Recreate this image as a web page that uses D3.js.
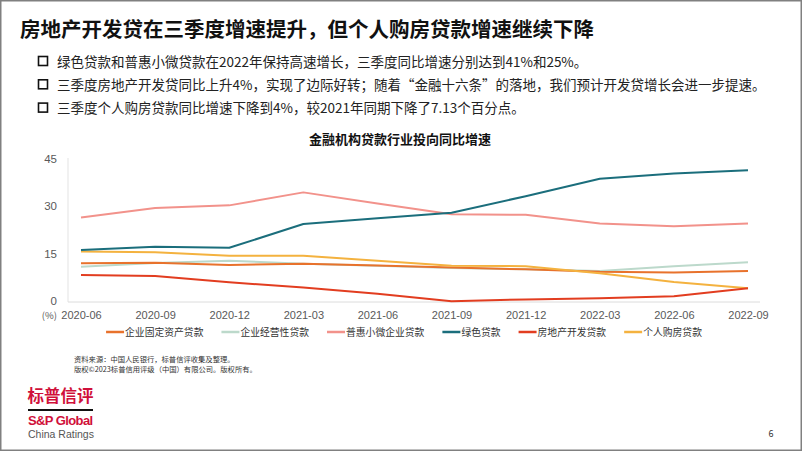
<!DOCTYPE html>
<html><head><meta charset="utf-8">
<script src="https://cdn.jsdelivr.net/npm/d3@7"></script>
<style>
html,body{margin:0;padding:0;background:#fff;}
svg{display:block;font-family:"Noto Sans CJK SC","Noto Sans",sans-serif;}
</style></head>
<body><svg id="c" width="802" height="451"></svg>
<script>
const categories = ["2020-06","2020-09","2020-12","2021-03","2021-06","2021-09","2021-12","2022-03","2022-06","2022-09"];
const seriesNames = ["企业固定资产贷款","企业经营性贷款","普惠小微企业贷款","绿色贷款","房地产开发贷款","个人购房贷款"];
const fixedAsset   = [11.9, 12.1, 11.4, 11.8, 11.2, 10.6, 10.0, 9.2, 9.0, 9.5];
const operating    = [10.8, 12.0, 12.7, 11.8, 11.1, 10.4, 10.0, 9.5, 11.0, 12.2];
const inclusiveSME = [26.4, 29.4, 30.2, 34.3, 30.8, 27.4, 27.2, 24.5, 23.6, 24.5];
const greenLoan    = [16.1, 17.1, 16.8, 24.3, 26.1, 27.9, 33.1, 38.6, 40.3, 41.3];
const realEstate   = [8.2, 7.9, 5.9, 4.3, 2.3, -0.1, 0.5, 0.9, 1.5, 4.0];
const housing      = [15.6, 15.4, 14.3, 14.3, 12.7, 11.1, 11.0, 8.8, 6.0, 4.0];
const yTicks = [0, 15, 30, 45];
const colors = ["#e8722c","#bcd9cb","#f2928b","#1b6e7c","#e23d20","#f4b23f"];
const seriesValues = [fixedAsset, operating, inclusiveSME, greenLoan, realEstate, housing];

const title = "房地产开发贷在三季度增速提升，但个人购房贷款增速继续下降";
const bullets = [
  "绿色贷款和普惠小微贷款在2022年保持高速增长，三季度同比增速分别达到41%和25%。",
  "三季度房地产开发贷同比上升4%，实现了边际好转；随着“金融十六条”的落地，我们预计开发贷增长会进一步提速。",
  "三季度个人购房贷款同比增速下降到4%，较2021年同期下降了7.13个百分点。"
];
const chartTitle = "金融机构贷款行业投向同比增速";
const notes = ["资料来源：中国人民银行，标普信评收集及整理。","版权©2023标普信用评级（中国）有限公司。版权所有。"];

const svg = d3.select("#c");
// border
svg.append("rect").attr("x",0.75).attr("y",0.75).attr("width",800.5).attr("height",449.5)
  .attr("fill","#fff").attr("stroke","#808080").attr("stroke-width",1.5);

// title
svg.append("text").attr("x",20).attr("y",37).attr("font-size",20.5).attr("font-weight",700)
  .attr("fill","#111").text(title);

// bullets
bullets.forEach((b,i)=>{
  const y = 61.5 + i*23.3;
  svg.append("rect").attr("x",38.5).attr("y",y-5).attr("width",9).attr("height",9)
    .attr("fill","none").attr("stroke","#111").attr("stroke-width",1.6);
  svg.append("text").attr("x",57).attr("y",y+5).attr("font-size",13.5).attr("fill","#222").text(b);
});

// chart title
svg.append("text").attr("x",400).attr("y",144).attr("text-anchor","middle")
  .attr("font-size",13).attr("font-weight",700).attr("fill","#111").text(chartTitle);

const x = d3.scalePoint().domain(categories).range([81,748]);
const y = d3.scaleLinear().domain([0,45]).range([301,158.5]);

// axes lines
svg.append("line").attr("x1",68).attr("x2",68).attr("y1",158).attr("y2",302)
  .attr("stroke","#e3e3e3").attr("stroke-width",1);
svg.append("line").attr("x1",68).attr("x2",760).attr("y1",302).attr("y2",302)
  .attr("stroke","#dcdcdc").attr("stroke-width",1);

const yAxis = svg.append("g").attr("transform","translate(57,0)")
  .call(d3.axisLeft(y).tickValues(yTicks).tickSize(0).tickPadding(0));
yAxis.select(".domain").remove();
yAxis.selectAll("text").attr("font-size",11.5).attr("fill","#595959")
  .attr("font-family","'Liberation Sans',Arial,sans-serif");

const xAxis = svg.append("g").attr("transform","translate(0,311)")
  .call(d3.axisBottom(x).tickSize(0).tickPadding(0));
xAxis.select(".domain").remove();
xAxis.selectAll("text").attr("font-size",11).attr("fill","#595959").attr("dy","0.71em")
  .attr("font-family","'Liberation Sans',Arial,sans-serif");
svg.append("text").attr("x",57).attr("y",318.5).attr("text-anchor","end")
  .attr("font-size",9.5).attr("fill","#595959").text("(%)");

const line = d3.line().x((d,i)=>x(categories[i])).y(d=>y(d));
const order = [1,2,0,5,3,4];
order.forEach(k=>{
  svg.append("path").datum(seriesValues[k]).attr("d",line)
    .attr("fill","none").attr("stroke",colors[k]).attr("stroke-width",2)
    .attr("stroke-linejoin","round");
});

// legend
const lg = svg.append("g");
let lx = 0;
seriesNames.forEach((n,i)=>{
  const g = lg.append("g").attr("transform",`translate(${lx},0)`);
  g.append("line").attr("x1",0).attr("x2",18).attr("y1",0).attr("y2",0)
    .attr("stroke",colors[i]).attr("stroke-width",2.5);
  const t = g.append("text").attr("x",19).attr("y",3.6).attr("font-size",9.8)
    .attr("fill","#333").text(n);
  const w = t.node().getComputedTextLength();
  lx += 19 + w + 18;
});
const totalW = lx - 18;
lg.attr("transform",`translate(${404 - totalW/2},332)`);

// notes
notes.forEach((n,i)=>{
  svg.append("text").attr("x",74).attr("y",362+i*9.5).attr("font-size",7.3)
    .attr("fill","#333").text(n);
});

// logo
svg.append("text").attr("x",27.5).attr("y",402).attr("font-size",16.5).attr("font-weight",700)
  .attr("fill","#d0103a").text("标普信评");
svg.append("line").attr("x1",28).attr("x2",93).attr("y1",410).attr("y2",410)
  .attr("stroke","#111").attr("stroke-width",2);
svg.append("text").attr("x",28).attr("y",425).attr("font-size",13).attr("font-weight",700)
  .attr("fill","#d0103a").attr("font-family","'Liberation Sans',Arial,sans-serif")
  .attr("letter-spacing",-0.6).text("S&P Global");
svg.append("text").attr("x",28).attr("y",438).attr("font-size",10.5)
  .attr("fill","#555").attr("font-family","'Liberation Sans',Arial,sans-serif").text("China Ratings");
svg.append("text").attr("x",771).attr("y",437).attr("text-anchor","middle").attr("font-size",9)
  .attr("fill","#333").text("6");
</script></body></html>
